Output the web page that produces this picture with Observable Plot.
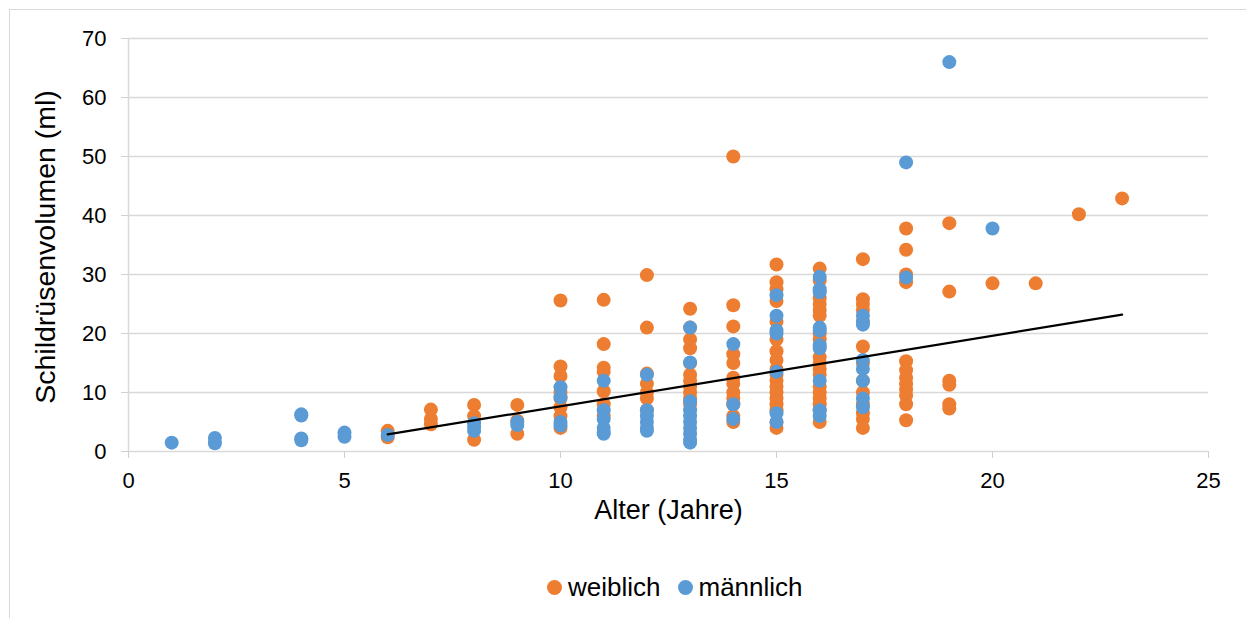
<!DOCTYPE html>
<html><head><meta charset="utf-8">
<script src="https://cdn.jsdelivr.net/npm/d3@7"></script>
<script src="https://cdn.jsdelivr.net/npm/@observablehq/plot@0.6"></script>
<style>
body{margin:0;background:#fff;font-family:"Liberation Sans",Arial,sans-serif;}
#wrap{position:relative;width:1246px;height:618px;overflow:hidden;}
#border{position:absolute;left:9px;top:9px;width:1300px;height:700px;border:1px solid #d9d9d9;box-sizing:border-box;}
#chart{position:absolute;left:0;top:0;}
#chart g[aria-label="x-axis tick label"], #chart g[aria-label="y-axis tick label"]{font-size:22px !important;}
#legend{position:absolute;left:547px;top:572px;display:flex;align-items:center;font-size:26px;color:#000;}
.li{display:flex;align-items:center;margin-right:17px;}
.sw{width:15px;height:15px;border-radius:50%;display:inline-block;margin-right:6px;}
</style></head>
<body>
<div id="wrap"><div id="border"></div><div id="chart"></div>
<div id="legend"><span class="li"><span class="sw" style="background:#ED7D31"></span>weiblich</span><span class="li"><span class="sw" style="background:#5B9BD5"></span>männlich</span></div></div>
<script>
const femaleAges = [6,6,7,7,7,8,8,8,9,9,9,
 10,10,10,10,10,10,10,10,
 11,11,11,11,11,11,11,
 12,12,12,12,12,12,12,
 13,13,13,13,13,13,13,13,13,13,13,
 14,14,14,14,14,14,14,14,14,14,14,14,
 15,15,15,15,15,15,15,15,15,15,15,15,15,15,15,15,15,15,
 16,16,16,16,16,16,16,16,16,16,16,16,16,16,16,16,16,16,
 17,17,17,17,17,17,17,17,17,17,17,17,17,
 18,18,18,18,18,18,18,18,18,18,18,18,
 19,19,19,19,19,19,
 20,21,22,23];
const femaleVol = [3.5,2.4,7.1,5.5,4.6,7.9,6.0,2.0,7.9,5.2,3.0,
 25.6,14.4,12.8,10.0,9.0,7.5,6.0,4.0,
 25.7,18.2,14.2,13.5,10.2,8.0,6.0,
 29.9,21.0,13.2,11.5,10.0,9.0,7.0,
 24.2,21.0,19.0,17.5,15.0,13.0,12.0,11.0,10.0,9.0,8.0,
 50.0,24.8,21.2,16.5,15.0,12.5,11.5,10.0,9.0,8.0,6.0,5.0,
 31.7,28.7,27.5,25.5,22.0,19.0,17.0,15.5,14.0,13.0,12.0,11.0,10.0,9.0,8.0,7.0,5.0,4.0,
 31.0,29.0,26.0,25.0,24.0,23.0,20.0,19.0,16.0,15.0,14.0,13.0,11.0,10.0,9.0,8.0,7.0,5.0,
 32.6,25.8,25.0,24.0,22.0,17.8,15.0,12.0,10.0,8.0,6.5,5.5,4.0,
 37.8,34.2,30.0,28.7,15.3,13.8,12.5,11.5,10.5,9.5,8.0,5.3,
 38.7,27.1,12.0,11.3,8.0,7.3,
 28.5,28.5,40.2,42.9];
const maleAges = [1,2,2,4,4,4,4,5,5,6,8,8,8,9,9,
 10,10,10,10,
 11,11,11,11,11,11,
 12,12,12,12,12,12,
 13,13,13,13,13,13,13,13,13,13,
 14,14,14,
 15,15,15,15,15,15,15,
 16,16,16,16,16,16,16,16,16,16,
 17,17,17,17,17,17,17,17,
 18,18,19,20];
const maleVol = [1.5,2.3,1.4,6.3,6.1,2.2,1.9,3.2,2.5,2.8,4.8,3.5,4.2,4.5,5.0,
 10.9,9.2,5.0,4.4,
 12.0,7.0,5.5,4.0,3.0,3.3,
 13.0,7.0,6.0,5.0,4.0,3.5,
 21.0,15.1,8.5,7.0,6.0,5.0,4.0,3.0,2.0,1.5,
 18.2,8.0,5.5,
 26.5,23.0,20.5,20.0,13.5,6.5,5.0,
 29.6,27.5,27.0,21.0,20.5,18.0,17.5,12.0,7.0,6.0,
 23.0,22.0,21.5,15.5,14.0,12.0,9.0,7.5,
 49.0,29.5,66.0,37.8];
const trendX = [6, 23];
const trendY = [2.9, 23.2];
const xTicks = [0,5,10,15,20,25];
const yTicks = [0,10,20,30,40,50,60,70];

const female = femaleAges.map((a,i)=>({x:a,y:femaleVol[i]}));
const male = maleAges.map((a,i)=>({x:a,y:maleVol[i]}));
const trend = trendX.map((x,i)=>({x,y:trendY[i]}));

const chart = Plot.plot({
  width:1246, height:545,
  marginLeft:128, marginRight:38, marginTop:38, marginBottom:94,
  style:{fontFamily:"Liberation Sans, Arial, sans-serif", fontSize:"22px", color:"#000", background:"transparent"},
  x:{domain:[0,25]},
  y:{domain:[0,70]},
  marks:[
    Plot.gridY(yTicks.filter(d=>d>0),{stroke:"#d9d9d9",strokeOpacity:1,strokeWidth:1.5}),
    Plot.ruleY([0],{stroke:"#d9d9d9",strokeWidth:1.5}),
    Plot.ruleX([0],{stroke:"#d9d9d9",strokeWidth:1.5}),
    Plot.axisX({ticks:xTicks, tickSize:7, tickPadding:14, stroke:"#d0d0d0", fill:"#000", fontSize:22, label:null}),
    Plot.axisY({ticks:yTicks, tickSize:7, tickPadding:15, stroke:"#d0d0d0", fill:"#000", fontSize:22, label:null}),
    Plot.text(["Alter (Jahre)"],{frameAnchor:"bottom", dy:67, fontSize:27, fill:"#000"}),
    Plot.text(["Schildrüsenvolumen (ml)"],{frameAnchor:"left", textAnchor:"middle", dx:-83, dy:2, rotate:-90, fontSize:28.5, fill:"#000"}),
    Plot.dot(female,{x:"x",y:"y",r:7,fill:"#ED7D31",stroke:null}),
    Plot.dot(male,{x:"x",y:"y",r:7,fill:"#5B9BD5",stroke:null}),
    Plot.line(trend,{x:"x",y:"y",stroke:"#000",strokeWidth:2.2})
  ]
});
document.getElementById("chart").appendChild(chart);
</script>
</body></html>
